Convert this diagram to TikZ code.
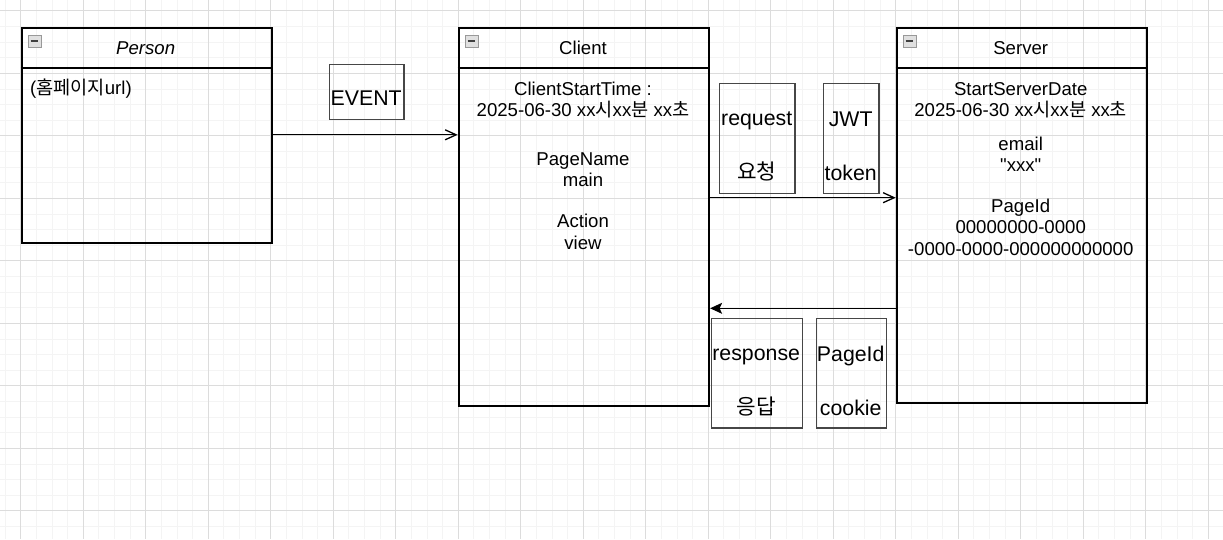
\documentclass[tikz,border=0pt]{standalone}
\usepackage{fontspec}
\setmainfont{Liberation Sans}
\newfontfamily\kr{Noto Sans CJK KR}
\usetikzlibrary{arrows.meta,positioning}
\definecolor{gridfaint}{RGB}{244,244,244}
\definecolor{gridstrong}{RGB}{220,220,220}
\definecolor{tagline}{RGB}{70,70,70}

\begin{document}
\begin{tikzpicture}[x=1pt,y=-1pt,
  every node/.style={inner sep=0pt,font=\fontsize{18.6}{21.5}\selectfont},
  classbox/.style={draw,line width=1.8pt,anchor=north west,minimum width=250pt},
  tagbox/.style={draw=tagline,line width=1.3pt,anchor=north west},
  tagtext/.style={align=center,font=\fontsize{21.3}{27}\selectfont},
  link/.style={line width=1.3pt,-{Straight Barb[length=11pt,width=10pt]}},
  linkback/.style={line width=1.3pt,-{Stealth[length=12pt,width=11pt,inset=2.5pt]}}]

  \fill[white] (0,0) rectangle (1223,539);
  \useasboundingbox (0,0) rectangle (1223,539);

  % background grid
  \foreach \i in {0,...,78}
    \draw[gridfaint,line width=0.8pt] ({5.08+15.625*\i},0) -- ++(0,539);
  \foreach \j in {0,...,34}
    \draw[gridfaint,line width=0.8pt] (0,{10.8+15.625*\j}) -- ++(1223,0);
  \foreach \i in {0,...,19}
    \draw[gridstrong,line width=0.8pt] ({20.7+62.5*\i},0) -- ++(0,539);
  \foreach \j in {0,...,8}
    \draw[gridstrong,line width=0.8pt] (0,{10.8+62.5*\j}) -- ++(1223,0);

  % classes
  \node[classbox,minimum height=215pt] (person) at (20.7,27.3) {};
  \node[classbox,minimum width=250.6pt,minimum height=377.4pt] (client) at (457.7,27.3) {};
  \node[classbox,minimum height=374.7pt] (server) at (895.7,27.3) {};

  \foreach \c in {person,client,server}
  {
    \draw[line width=1.8pt] ([yshift=-40.4pt]\c.north west) -- ([yshift=-40.4pt]\c.north east);
    \draw[draw=black!40,fill=black!12] ([xshift=7.3pt,yshift=-7.8pt]\c.north west) rectangle ++(13,12);
    \draw[line width=1.5pt,black!75] ([xshift=10pt,yshift=-13.8pt]\c.north west) -- ++(7.6,0);
  }

  \node (person-title) at (145.7,48) {\itshape Person};
  \node (client-title) at (583,48) {Client};
  \node (server-title) at (1020.7,48) {Server};

  \node[anchor=west] (person-url) at (30,89) {({\kr 홈페이지}url)};

  \node[align=center] (client-time) at (583,100) {ClientStartTime :\\2025-06-30 xx{\kr 시}xx{\kr 분} xx{\kr 초}};
  \node[align=center] (client-page) at (583,169.5) {PageName\\main};
  \node[align=center] (client-action) at (583,232) {Action\\view};

  \node[align=center] (server-date) at (1020.7,100) {StartServerDate\\2025-06-30 xx{\kr 시}xx{\kr 분} xx{\kr 초}};
  \node[align=center] (server-email) at (1020.7,154.5) {email\\\textquotedbl xxx\textquotedbl};
  \node[align=center] (server-id) at (1020.7,227) {PageId\\00000000-0000\\-0000-0000-000000000000};

  % message tags
  \node[tagbox,minimum width=74.3pt,minimum height=55pt] (event) at (329,64) {};
  \node[tagbox,minimum width=75.3pt,minimum height=110pt] (request) at (719,82.7) {};
  \node[tagbox,minimum width=55.3pt,minimum height=110pt] (jwt) at (823,82.7) {};
  \node[tagbox,minimum width=91pt,minimum height=109.6pt] (response) at (710.7,317.7) {};
  \node[tagbox,minimum width=70pt,minimum height=109.6pt] (pageid) at (815.7,317.7) {};

  \node[tagtext] (event-t) at (366.2,98.3) {EVENT};
  \node[tagtext] (request-t) at (756.7,146.5) {request\\[27pt]{\kr 요청}};
  \node[tagtext] (jwt-t) at (850.7,146.5) {JWT\\[27pt]token};
  \node[tagtext] (response-t) at (756.2,382.5) {response\\[27pt]{\kr 응답}};
  \node[tagtext] (pageid-t) at (850.7,380.5) {PageId\\[27pt]cookie};

  % messages
  \foreach \from/\to/\y in {person/client/134.8,client/server/197.7}
    \draw[link] (\from.east |- 0,\y) -- (\to.west |- 0,\y);
  \draw[linkback] (server.west |- 0,308.3) -- (client.east |- 0,308.3);
\end{tikzpicture}
\end{document}
